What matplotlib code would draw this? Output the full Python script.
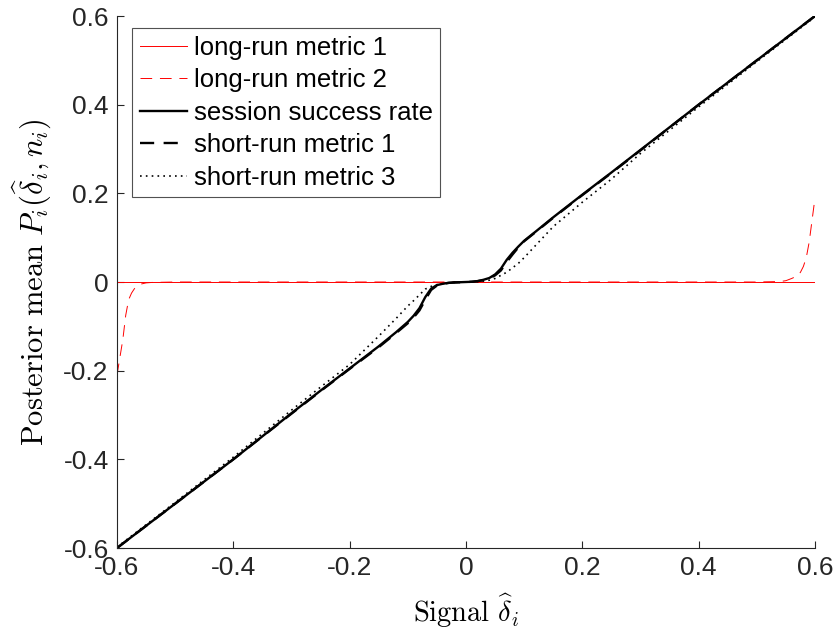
import matplotlib
matplotlib.use("Agg")
import matplotlib.pyplot as plt

plt.rcParams['font.family'] = ['Liberation Sans', 'DejaVu Sans']
plt.rcParams['mathtext.fontset'] = 'cm'

# signal grid used for the black curves
x = [-0.6, -0.5, -0.4, -0.3, -0.25, -0.2, -0.15, -0.12, -0.1, -0.09, -0.08, -0.07,
     -0.06, -0.05, -0.04, -0.03, -0.02, -0.01, 0.0, 0.01, 0.02, 0.03, 0.04, 0.05,
     0.06, 0.07, 0.08, 0.09, 0.1, 0.12, 0.15, 0.2, 0.25, 0.3, 0.4, 0.5, 0.6]

session = [-0.6, -0.5, -0.4, -0.296, -0.245, -0.195, -0.145, -0.113, -0.09, -0.076, -0.059, -0.034,
           -0.015, -0.007, -0.004, -0.002, -0.001, -0.0005, 0.0, 0.0005, 0.002, 0.005, 0.009, 0.017,
           0.03, 0.05, 0.066, 0.08, 0.093, 0.114, 0.146, 0.197, 0.247, 0.298, 0.4, 0.5, 0.6]

short1 = [-0.6, -0.5, -0.4, -0.297, -0.246, -0.196, -0.147, -0.115, -0.093, -0.08, -0.064, -0.04,
          -0.018, -0.008, -0.004, -0.002, -0.001, -0.0005, 0.0, 0.0005, 0.002, 0.004, 0.008, 0.015,
          0.026, 0.045, 0.062, 0.078, 0.092, 0.113, 0.145, 0.196, 0.246, 0.297, 0.4, 0.5, 0.6]

short3 = [-0.598, -0.497, -0.395, -0.289, -0.237, -0.186, -0.122, -0.082, -0.054, -0.042, -0.029, -0.016,
          -0.01, -0.006, -0.004, -0.002, -0.001, -0.0005, 0.0, 0.0005, 0.001, 0.002, 0.004, 0.008,
          0.015, 0.022, 0.032, 0.042, 0.055, 0.083, 0.125, 0.18, 0.232, 0.29, 0.395, 0.497, 0.598]

# long-run metrics
x_long = [-0.6, -0.595, -0.59, -0.585, -0.58, -0.575, -0.57, -0.565, -0.56, -0.55, -0.54, -0.5,
          0.0, 0.5, 0.54, 0.55, 0.56, 0.57, 0.575, 0.58, 0.585, 0.59, 0.595, 0.6]
long1 = [0.0] * len(x_long)
long2 = [-0.21, -0.17, -0.13, -0.075, -0.04, -0.025, -0.015, -0.009, -0.005, -0.002, -0.001, 0.0,
         0.0, 0.0, 0.001, 0.003, 0.008, 0.014, 0.022, 0.035, 0.055, 0.09, 0.14, 0.19]

ticks = [-0.6, -0.4, -0.2, 0, 0.2, 0.4, 0.6]
tick_labels = ['-0.6', '-0.4', '-0.2', '0', '0.2', '0.4', '0.6']

fig = plt.figure(figsize=(8.36, 6.33), dpi=100)
ax = fig.add_axes([117/836, 1-548/633, (815-117)/836, (548-16)/633])

ax.plot(x_long, long1, color='red', lw=0.7, label='long-run metric 1')
ax.plot(x_long, long2, color='red', lw=0.7, ls=(0, (12, 8)), label='long-run metric 2')
ax.plot(x, session, color='black', lw=1.7, label='session success rate')
ax.plot(x, short1, color='black', lw=1.7, ls=(0, (6, 4)), label='short-run metric 1')
ax.plot(x, short3, color='black', lw=1.2, ls=(0, (1, 2.5)), label='short-run metric 3')

ax.set_xlim(-0.6, 0.6)
ax.set_ylim(-0.6, 0.6)
ax.set_xticks(ticks)
ax.set_xticklabels(tick_labels)
ax.set_yticks(ticks)
ax.set_yticklabels(tick_labels)
ax.spines['top'].set_visible(False)
ax.spines['right'].set_visible(False)
for s in ['left', 'bottom']:
    ax.spines[s].set_color('#262626')
    ax.spines[s].set_linewidth(0.8)
ax.tick_params(direction='in', length=5, width=0.8, colors='#262626', labelsize=19, pad=6)

ax.set_xlabel(r'$\mathrm{Signal}\ \widehat{\delta}_i$', fontsize=20.5, labelpad=8)
ax.set_ylabel(r'$\mathrm{Posterior\ mean}\ P_i(\widehat{\delta}_i, n_i)$', fontsize=22)
ax.yaxis.set_label_coords(-0.092, 0.5)

leg = ax.legend(loc='upper left', bbox_to_anchor=(15/698, 1-12/532), borderaxespad=0,
                fontsize=18.5, frameon=True, fancybox=False, handlelength=1.83,
                handletextpad=0.27, labelspacing=0.33, borderpad=0.3)
leg.get_frame().set_edgecolor('#262626')
leg.get_frame().set_linewidth(0.8)

fig.savefig('out.png', dpi=100)
